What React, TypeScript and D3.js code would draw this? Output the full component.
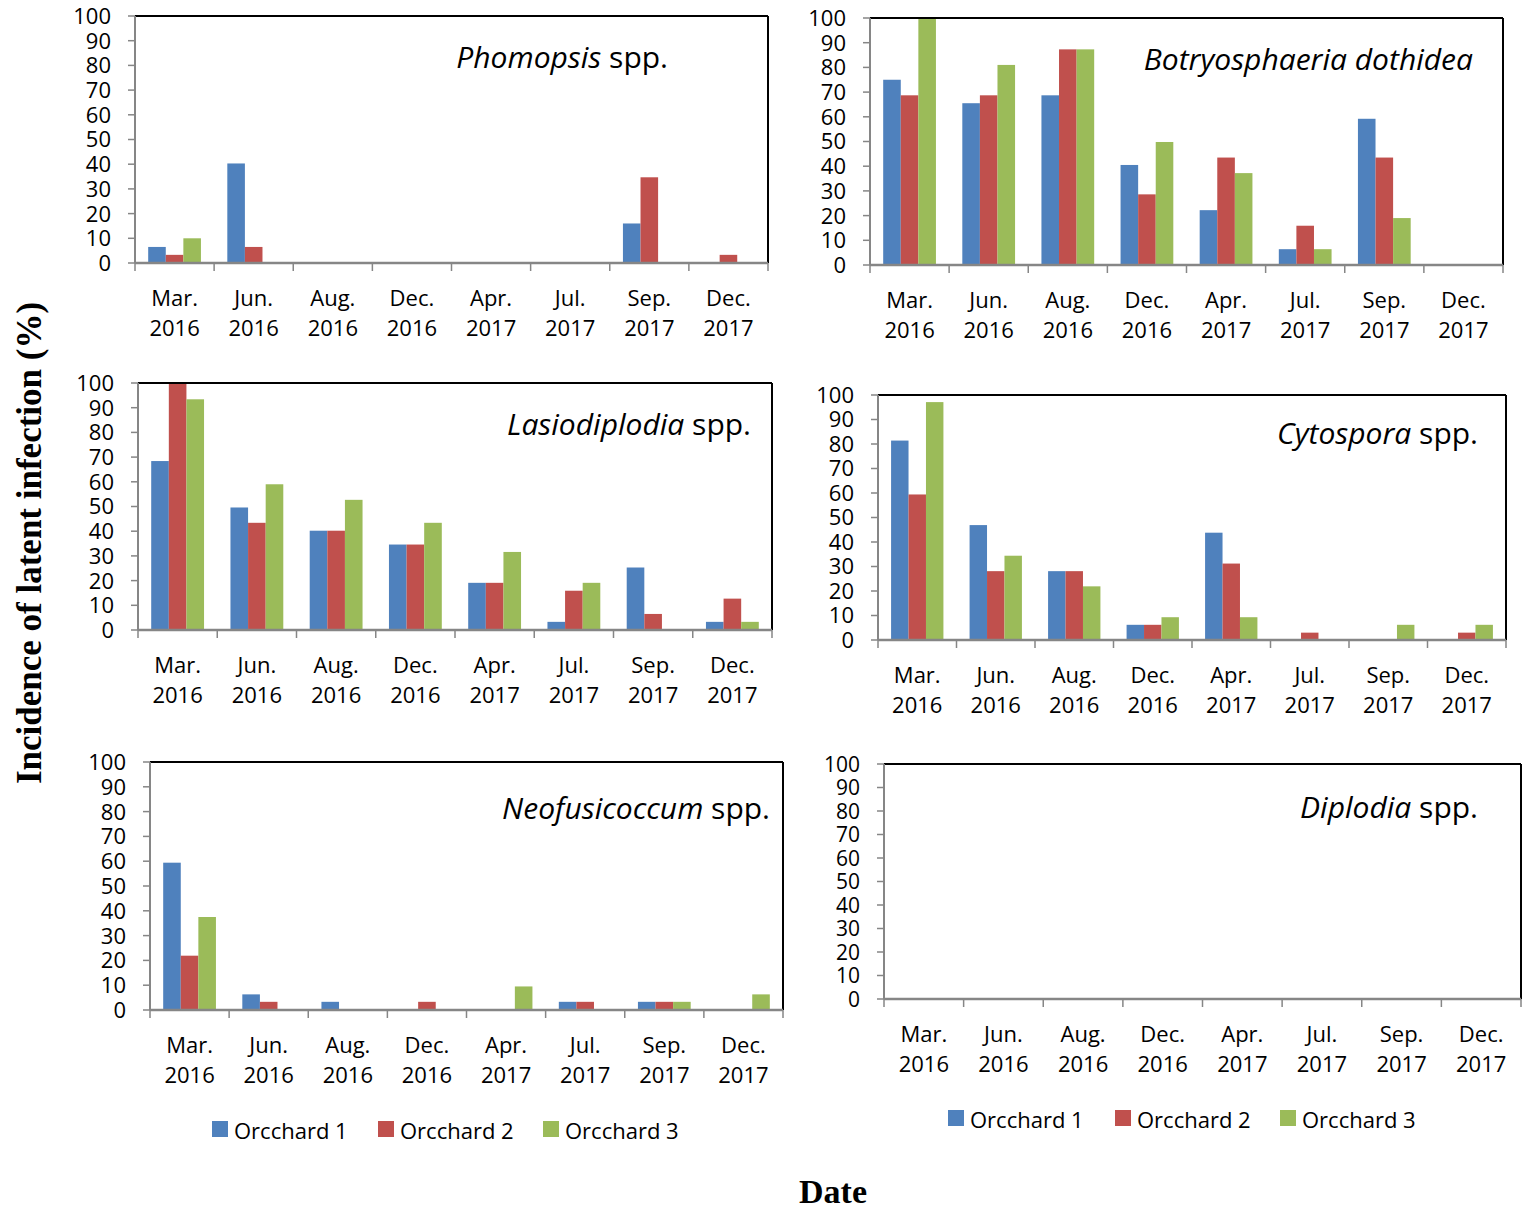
import React from "react";
import * as d3 from "d3";

// ---------- data ----------
const months = ["Mar.", "Jun.", "Aug.", "Dec.", "Apr.", "Jul.", "Sep.", "Dec."];
const years = ["2016", "2016", "2016", "2016", "2017", "2017", "2017", "2017"];
const seriesNames = ["Orcchard 1", "Orcchard 2", "Orcchard 3"];
const seriesColors = ["#4F81BD", "#C0504D", "#9BBB59"];
const yTicks = [0, 10, 20, 30, 40, 50, 60, 70, 80, 90, 100];

const phomopsis = [
  [6.5, 40.3, 0, 0, 0, 0, 16, 0],
  [3.3, 6.5, 0, 0, 0, 0, 34.7, 3.3],
  [10, 0, 0, 0, 0, 0, 0, 0],
];
const botryosphaeria = [
  [75, 65.5, 68.7, 40.5, 22.2, 6.4, 59.2, 0],
  [68.7, 68.7, 87.3, 28.6, 43.5, 15.9, 43.5, 0],
  [100, 81, 87.3, 49.8, 37.2, 6.4, 19, 0],
];
const lasiodiplodia = [
  [68.4, 49.6, 40.2, 34.6, 19.1, 3.3, 25.3, 3.3],
  [100, 43.4, 40.2, 34.6, 19.1, 15.9, 6.5, 12.7],
  [93.4, 59, 52.7, 43.4, 31.6, 19.1, 0, 3.3],
];
const cytospora = [
  [81.4, 46.9, 28.1, 6.2, 43.8, 0, 0, 0],
  [59.4, 28.1, 28.1, 6.2, 31.2, 3.0, 0, 3.0],
  [97.1, 34.4, 21.9, 9.3, 9.3, 0, 6.2, 6.2],
];
const neofusicoccum = [
  [59.4, 6.3, 3.3, 0, 0, 3.3, 3.3, 0],
  [21.9, 3.3, 0, 3.3, 0, 3.3, 3.3, 0],
  [37.5, 0, 0, 0, 9.5, 0, 3.3, 6.3],
];
const diplodia = [
  [0, 0, 0, 0, 0, 0, 0, 0],
  [0, 0, 0, 0, 0, 0, 0, 0],
  [0, 0, 0, 0, 0, 0, 0, 0],
];

const FONT = "'Open Sans', 'Noto Sans', sans-serif";
const SERIF = "'Liberation Serif', 'Times New Roman', serif";

type PanelProps = {
  left: number; right: number; top: number; bottom: number;
  data: number[][];
  italic: string; plain: string;
  titleX: number; titleY: number;
  tickFont?: number;
  legendY?: number; legendX?: number[];
};

function Panel(p: PanelProps) {
  const idx = months.map((_, i) => i);
  const x0 = d3.scaleBand<number>().domain(idx).range([p.left, p.right]).padding(0);
  const x1 = d3.scaleBand<number>().domain([0, 1, 2]).range([0, x0.bandwidth()])
    .paddingInner(0).paddingOuter(0.75);
  const y = d3.scaleLinear().domain([0, 100]).range([p.bottom, p.top]);
  const boundaries = d3.range(9).map((i) => p.left + i * x0.step());
  const tf = p.tickFont ?? 22;
  return (
    <g>
      {p.data.map((vals, s) =>
        vals.map((v, i) =>
          v > 0 ? (
            <rect key={`${s}-${i}`} x={(x0(i) as number) + (x1(s) as number)}
              y={y(v)} width={x1.bandwidth()} height={p.bottom - y(v)}
              fill={seriesColors[s]} />
          ) : null
        )
      )}
      <line x1={p.left} x2={p.right} y1={p.top} y2={p.top} stroke="#000" strokeWidth={2} />
      <line x1={p.right} x2={p.right} y1={p.top} y2={p.bottom} stroke="#000" strokeWidth={2} />
      <line x1={p.left} x2={p.left} y1={p.top} y2={p.bottom} stroke="#868686" strokeWidth={2} />
      {yTicks.map((t) => (
        <g key={t}>
          <line x1={p.left - 7} x2={p.left} y1={y(t)} y2={y(t)} stroke="#868686" strokeWidth={1.5} />
          <text x={p.left - 24} y={y(t)} dy="0.36em" textAnchor="end" fontFamily={FONT}
            fontSize={tf} fill="#000">{t}</text>
        </g>
      ))}
      <line x1={p.left} x2={p.right} y1={p.bottom} y2={p.bottom} stroke="#868686" strokeWidth={2.5} />
      {boundaries.map((bx, i) => (
        <line key={i} x1={bx} x2={bx} y1={p.bottom} y2={p.bottom + 8} stroke="#868686" strokeWidth={1.5} />
      ))}
      {idx.map((i) => {
        const cx = (x0(i) as number) + x0.bandwidth() / 2;
        return (
          <g key={i}>
            <text x={cx} y={p.bottom + 43} textAnchor="middle" fontFamily={FONT} fontSize={22}>{months[i]}</text>
            <text x={cx} y={p.bottom + 73} textAnchor="middle" fontFamily={FONT} fontSize={22}>{years[i]}</text>
          </g>
        );
      })}
      <text x={p.titleX} y={p.titleY} textAnchor="end" fontFamily={FONT} fontSize={30} fill="#000">
        <tspan fontStyle="italic">{p.italic}</tspan>
        {p.plain ? <tspan>{p.plain}</tspan> : null}
      </text>
      {p.legendY !== undefined && p.legendX
        ? seriesNames.map((n, s) => (
            <g key={n}>
              <rect x={p.legendX![s]} y={p.legendY! - 16} width={16} height={16} fill={seriesColors[s]} />
              <text x={p.legendX![s] + 22} y={p.legendY! + 2} fontFamily={FONT} fontSize={22}>{n}</text>
            </g>
          ))
        : null}
    </g>
  );
}

export default function App() {
  return (
    <div style={{ position: "absolute", left: 0, top: 0 }}>
      <svg width={1529} height={1211} viewBox="0 0 1529 1211" style={{ display: "block", background: "#fff" }}>
        <rect x={0} y={0} width={1529} height={1211} fill="#fff" />
        <Panel left={135} right={768} top={16} bottom={263} data={phomopsis}
          italic="Phomopsis" plain=" spp." titleX={668} titleY={68} />
        <Panel left={870} right={1503} top={18} bottom={265} data={botryosphaeria}
          italic="Botryosphaeria dothidea" plain="" titleX={1473} titleY={70} />
        <Panel left={138} right={772} top={383} bottom={630} data={lasiodiplodia}
          italic="Lasiodiplodia" plain=" spp." titleX={751} titleY={435} />
        <Panel left={878} right={1506} top={395} bottom={640} data={cytospora}
          italic="Cytospora" plain=" spp." titleX={1478} titleY={444} />
        <Panel left={150} right={783} top={762} bottom={1010} data={neofusicoccum}
          italic="Neofusicoccum" plain=" spp." titleX={770} titleY={819}
          legendY={1137} legendX={[212, 378, 543]} />
        <Panel left={884} right={1521} top={764} bottom={999} data={diplodia}
          italic="Diplodia" plain=" spp." titleX={1478} titleY={818} tickFont={21}
          legendY={1126} legendX={[948, 1115, 1280]} />
        <text transform="translate(41,543) rotate(-90)" textAnchor="middle" fontFamily={SERIF}
          fontWeight="bold" fontSize={35} fill="#000">Incidence of latent infection (%)</text>
        <text x={833} y={1203} textAnchor="middle" fontFamily={SERIF} fontWeight="bold"
          fontSize={34} fill="#000">Date</text>
      </svg>
    </div>
  );
}
